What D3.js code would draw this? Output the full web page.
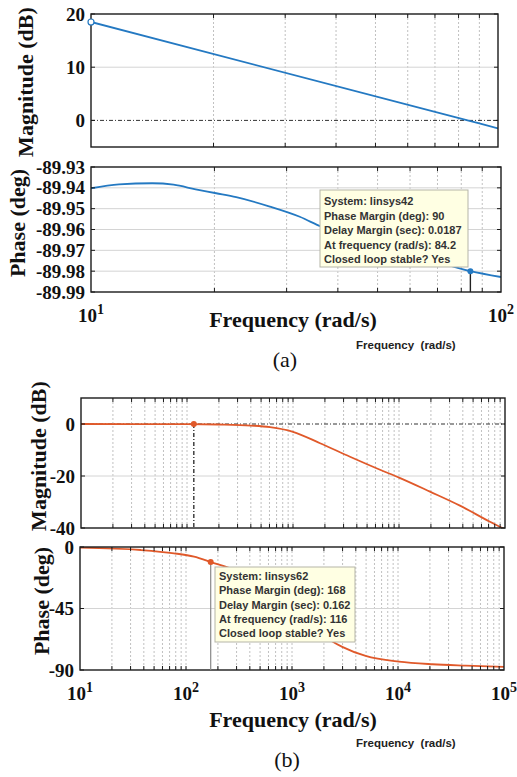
<!DOCTYPE html>
<html lang="en">
<head>
  <meta charset="UTF-8" />
  <title>Bode diagrams (a) and (b)</title>
  <script src="https://d3js.org/d3.v7.min.js"></script>
  <style>
    body { margin: 0; background: #fff; }
    svg { display: block; }
    .tick-label { font-family: "Liberation Serif", "Times New Roman", serif; font-weight: bold; font-size: 19px; fill: #111; }
    .axis-title { font-family: "Liberation Serif", "Times New Roman", serif; font-weight: bold; font-size: 22px; fill: #111; }
    .small-title { font-family: "Liberation Sans", Arial, sans-serif; font-weight: bold; font-size: 11.5px; fill: #222; }
    .caption { font-family: "Liberation Serif", "Times New Roman", serif; font-size: 22px; fill: #111; }
    .tip text { font-family: "Liberation Sans", Arial, sans-serif; font-weight: bold; font-size: 11px; fill: #333; }
  </style>
</head>
<body>
<div id="chart"></div>
<script>
  // ---- Données ----
  // (a) linsys42
  const magAFreq = [10, 84.2, 100];
  const magA = [18.5, 0, -1.5];
  const phaseAFreq = [10, 11.7, 14.1, 15.9, 18, 20.2, 22.6, 27.3, 32.3, 36.5, 50, 65, 84.2, 100];
  const phaseA = [-89.9402, -89.9383, -89.9378, -89.9385, -89.9407, -89.9426, -89.9445, -89.949,
                  -89.9539, -89.9587, -89.9665, -89.9735, -89.980, -89.9828];
  const magATicks = [20, 10, 0];
  const phaseATicks = [-89.93, -89.94, -89.95, -89.96, -89.97, -89.98, -89.99];
  const tipA = ["System: linsys42", "Phase Margin (deg): 90", "Delay Margin (sec): 0.0187",
                "At frequency (rad/s): 84.2", "Closed loop stable? Yes"];
  const markA = { freq: 84.2, phase: -89.980, startMag: 18.5 };

  // (b) linsys62
  const magBFreq = [10, 100, 200, 400, 607, 1000, 1800, 3450, 6620, 10000, 19600, 37600, 72100, 100000];
  const magB = [0, -0.05, -0.2, -0.6, -1.2, -3.0, -7.4, -12.6, -17.6, -20.6, -26, -31.4, -37.6, -40.5];
  const phaseBFreq = [10, 37.4, 77, 119, 171, 300, 500, 1000, 1500, 2317, 2980, 4950, 10200, 21100, 43500, 100000];
  const phaseB = [-0.5, -2.2, -4.6, -7.1, -11.0, -17.5, -27.8, -46.5, -57.7, -68.4, -73.1, -79.7,
                  -83.9, -85.8, -86.8, -87.7];
  const magBTicks = [0, -20, -40];
  const phaseBTicks = [0, -45, -90];
  const tipB = ["System: linsys62", "Phase Margin (deg): 168", "Delay Margin (sec): 0.162",
                "At frequency (rad/s): 116", "Closed loop stable? Yes"];
  const markB = { magFreq: 116, mag: 0, phaseFreq: 171, phase: -11.0 };

  const blue = "#2479c2";
  const orange = "#e0592a";

  const svg = d3.select("#chart").append("svg")
    .attr("width", 517)
    .attr("height", 777);

  let clipCount = 0;

  // Un panneau : grille, courbe, cadre, graduations
  function drawPanel(p) {
    const x = d3.scaleLog().domain(p.xDomain).range([p.left, p.right]);
    const y = d3.scaleLinear().domain(p.yDomain).range([p.bottom, p.top]);
    const g = svg.append("g");
    const clipId = "clip" + (clipCount++);
    svg.append("clipPath").attr("id", clipId).append("rect")
      .attr("x", p.left).attr("y", p.top)
      .attr("width", p.right - p.left).attr("height", p.bottom - p.top);

    const minor = x.ticks().filter(t => t > p.xDomain[0] && t < p.xDomain[1]);

    // grille verticale
    g.selectAll(".vgrid").data(minor).enter().append("line")
      .attr("x1", d => x(d)).attr("x2", d => x(d))
      .attr("y1", p.top).attr("y2", p.bottom)
      .attr("stroke", "#b0b0b0").attr("stroke-width", 0.8)
      .attr("stroke-dasharray", "2,2");

    // grille horizontale
    g.selectAll(".hgrid").data(p.yTicks.filter(t => t !== p.yDomain[0] && t !== p.yDomain[1] && t !== p.zero))
      .enter().append("line")
      .attr("x1", p.left).attr("x2", p.right)
      .attr("y1", d => y(d)).attr("y2", d => y(d))
      .attr("stroke", "#d4d4d4").attr("stroke-width", 1);

    // ligne 0 dB (tiret-point)
    if (p.zero !== undefined) {
      g.append("line")
        .attr("x1", p.left).attr("x2", p.right)
        .attr("y1", y(p.zero)).attr("y2", y(p.zero))
        .attr("stroke", "#333").attr("stroke-width", 1)
        .attr("stroke-dasharray", "4,2,1,2");
    }

    // courbe
    g.append("path")
      .datum(d3.zip(p.freq, p.values))
      .attr("clip-path", `url(#${clipId})`)
      .attr("fill", "none")
      .attr("stroke", p.color)
      .attr("stroke-width", 1.8)
      .attr("d", d3.line().curve(d3.curveMonotoneX).x(d => x(d[0])).y(d => y(d[1])));

    // cadre
    g.append("rect")
      .attr("x", p.left).attr("y", p.top)
      .attr("width", p.right - p.left).attr("height", p.bottom - p.top)
      .attr("fill", "none").attr("stroke", "#1a1a1a").attr("stroke-width", 1.4);

    // graduations intérieures
    const tl = 4;
    minor.forEach(t => {
      g.append("line").attr("x1", x(t)).attr("x2", x(t)).attr("y1", p.bottom).attr("y2", p.bottom - tl)
        .attr("stroke", "#1a1a1a").attr("stroke-width", 1);
      g.append("line").attr("x1", x(t)).attr("x2", x(t)).attr("y1", p.top).attr("y2", p.top + tl)
        .attr("stroke", "#1a1a1a").attr("stroke-width", 1);
    });
    p.yTicks.forEach(t => {
      g.append("line").attr("x1", p.left).attr("x2", p.left + tl).attr("y1", y(t)).attr("y2", y(t))
        .attr("stroke", "#1a1a1a").attr("stroke-width", 1);
      g.append("line").attr("x1", p.right).attr("x2", p.right - tl).attr("y1", y(t)).attr("y2", y(t))
        .attr("stroke", "#1a1a1a").attr("stroke-width", 1);
    });

    // étiquettes Y (trait d'union simple pour le signe moins)
    g.selectAll(".ylab").data(p.yTicks).enter().append("text")
      .attr("class", "tick-label")
      .attr("x", p.left - 6)
      .attr("y", d => y(d))
      .attr("dy", "0.35em")
      .attr("text-anchor", "end")
      .text(p.yFormat);

    // titre Y (vertical)
    g.append("text")
      .attr("class", "axis-title")
      .attr("text-anchor", "middle")
      .attr("transform", `translate(${p.titleX}, ${p.titleY}) rotate(-90)`)
      .attr("dy", "0.35em")
      .text(p.title);

    return { x, y, g };
  }

  // étiquettes 10^n de l'axe X
  function xPowerLabels(x, exps, baseY) {
    exps.forEach(e => {
      const t = svg.append("text")
        .attr("class", "tick-label")
        .attr("x", x(Math.pow(10, e)))
        .attr("y", baseY)
        .attr("text-anchor", "middle");
      t.append("tspan").text("10");
      t.append("tspan").attr("dy", -8).style("font-size", "14px").text(e);
    });
  }

  function tooltip(left, top, w, h, lines, first, step) {
    const g = svg.append("g").attr("class", "tip");
    g.append("rect")
      .attr("x", left).attr("y", top).attr("width", w).attr("height", h)
      .attr("fill", "#ffffe3").attr("stroke", "#b5b5a8").attr("stroke-width", 1);
    g.selectAll("text").data(lines).enter().append("text")
      .attr("x", left + 4)
      .attr("y", (d, i) => top + first + i * step)
      .text(d => d);
  }

  const fmtInt = d => String(d);
  const fmt2 = d => d.toFixed(2);

  // ================= (a) =================
  const magPA = drawPanel({
    left: 91, right: 498, top: 14, bottom: 147,
    xDomain: [10, 100], yDomain: [-5, 20], yTicks: magATicks, zero: 0,
    freq: magAFreq, values: magA, color: blue, yFormat: fmtInt,
    title: "Magnitude (dB)", titleX: 25, titleY: 82
  });
  // point de départ (cercle creux)
  magPA.g.append("circle")
    .attr("cx", magPA.x(magAFreq[0])).attr("cy", magPA.y(markA.startMag)).attr("r", 3)
    .attr("fill", "#fff").attr("stroke", blue).attr("stroke-width", 1.2);

  const phPA = drawPanel({
    left: 91, right: 501, top: 167, bottom: 292,
    xDomain: [10, 100], yDomain: [-89.99, -89.93], yTicks: phaseATicks,
    freq: phaseAFreq, values: phaseA, color: blue, yFormat: fmt2,
    title: "Phase (deg)", titleX: 17, titleY: 223
  });
  tooltip(320, 190, 148, 77, tipA, 15, 14.5);
  phPA.g.append("line")
    .attr("x1", phPA.x(markA.freq)).attr("x2", phPA.x(markA.freq))
    .attr("y1", phPA.y(markA.phase)).attr("y2", 292)
    .attr("stroke", "#222").attr("stroke-width", 1.4);
  phPA.g.append("circle")
    .attr("cx", phPA.x(markA.freq)).attr("cy", phPA.y(markA.phase)).attr("r", 3)
    .attr("fill", blue);

  xPowerLabels(phPA.x, [1, 2], 322);
  svg.append("text").attr("class", "axis-title").attr("x", 293).attr("y", 327)
    .attr("text-anchor", "middle").text("Frequency (rad/s)");
  svg.append("text").attr("class", "small-title").attr("x", 356).attr("y", 349)
    .style("white-space", "pre").text("Frequency  (rad/s)");
  svg.append("text").attr("class", "caption").attr("x", 285).attr("y", 367)
    .attr("text-anchor", "middle").text("(a)");

  // ================= (b) =================
  const magPB = drawPanel({
    left: 81, right: 505, top: 398, bottom: 528,
    xDomain: [10, 100000], yDomain: [-40, 10], yTicks: magBTicks, zero: 0,
    freq: magBFreq, values: magB, color: orange, yFormat: fmtInt,
    title: "Magnitude (dB)", titleX: 38, titleY: 456
  });
  magPB.g.append("line")
    .attr("x1", magPB.x(markB.magFreq)).attr("x2", magPB.x(markB.magFreq))
    .attr("y1", magPB.y(markB.mag)).attr("y2", 528)
    .attr("stroke", "#111").attr("stroke-width", 1.2)
    .attr("stroke-dasharray", "4,2,1,2");
  magPB.g.append("circle")
    .attr("cx", magPB.x(markB.magFreq)).attr("cy", magPB.y(markB.mag)).attr("r", 3)
    .attr("fill", orange);

  const phPB = drawPanel({
    left: 80, right: 504, top: 547, bottom: 670,
    xDomain: [10, 100000], yDomain: [-90, 0], yTicks: phaseBTicks,
    freq: phaseBFreq, values: phaseB, color: orange, yFormat: fmtInt,
    title: "Phase (deg)", titleX: 41, titleY: 601
  });
  phPB.g.append("line")
    .attr("x1", phPB.x(markB.phaseFreq)).attr("x2", phPB.x(markB.phaseFreq))
    .attr("y1", phPB.y(markB.phase)).attr("y2", 670)
    .attr("stroke", "#888").attr("stroke-width", 1.2);
  phPB.g.append("circle")
    .attr("cx", phPB.x(markB.phaseFreq)).attr("cy", phPB.y(markB.phase)).attr("r", 3)
    .attr("fill", orange);
  tooltip(215, 567, 140, 75, tipB, 13, 14.25);

  xPowerLabels(phPB.x, [1, 2, 3, 4, 5], 700);
  svg.append("text").attr("class", "axis-title").attr("x", 293).attr("y", 727)
    .attr("text-anchor", "middle").text("Frequency (rad/s)");
  svg.append("text").attr("class", "small-title").attr("x", 356).attr("y", 747)
    .style("white-space", "pre").text("Frequency  (rad/s)");
  svg.append("text").attr("class", "caption").attr("x", 287).attr("y", 767)
    .attr("text-anchor", "middle").text("(b)");
</script>
</body>
</html>
